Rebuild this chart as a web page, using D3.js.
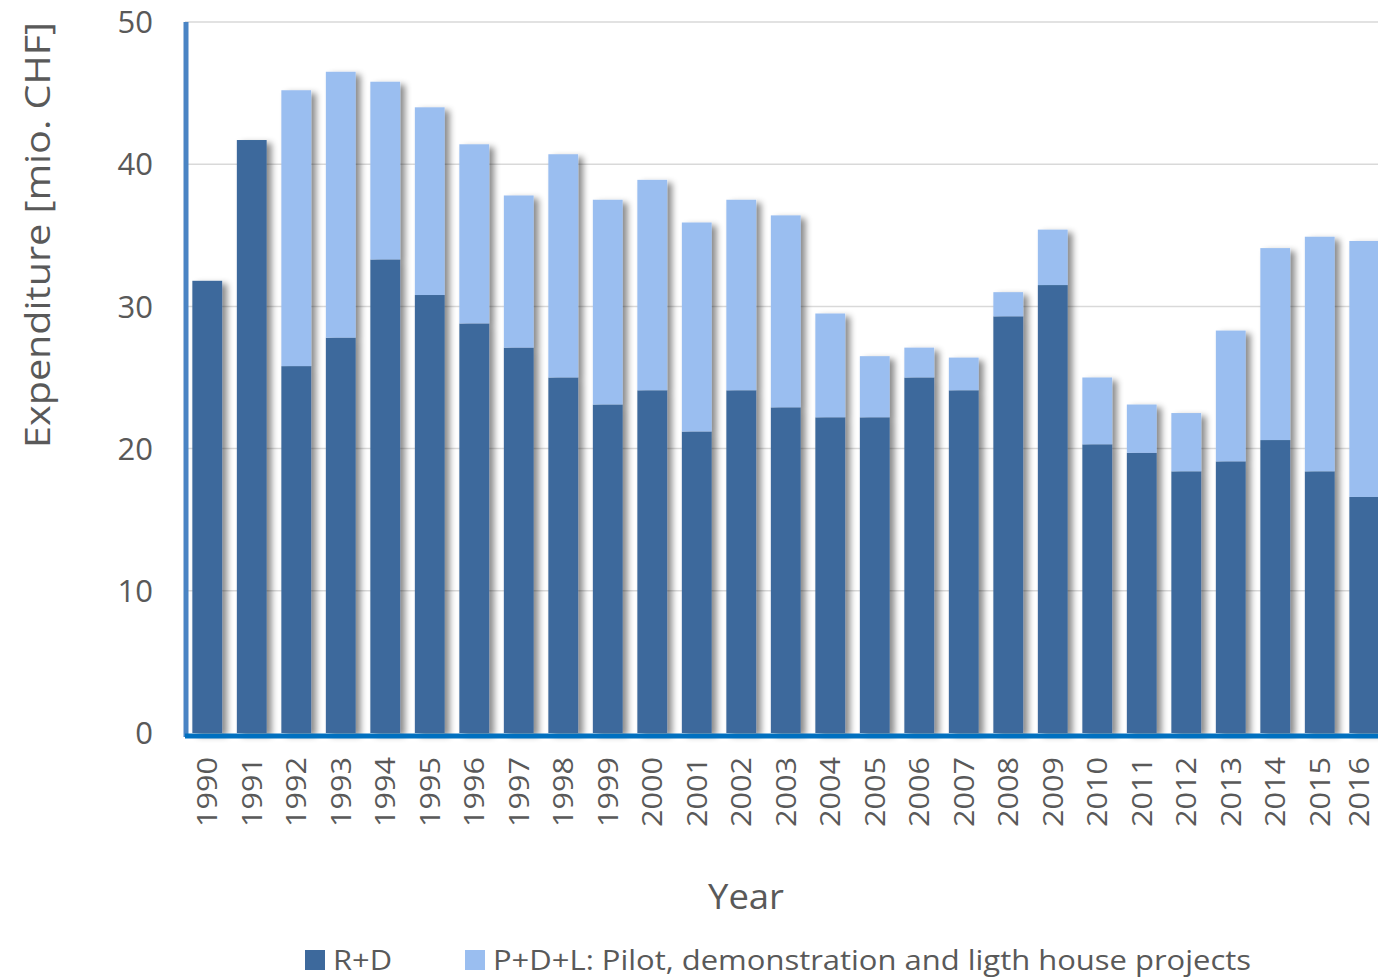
<!DOCTYPE html>
<html>
<head>
<meta charset="utf-8">
<script src="https://cdn.jsdelivr.net/npm/d3@7"></script>
<style>
  body { margin: 0; background: #fff; }
  text { font-family: "Open Sans", sans-serif; fill: #595959; }
</style>
</head>
<body>
<div id="chart"></div>
<script>
const years = d3.range(1990, 2017).map(String);

// R+D expenditure, mio. CHF
const rdValues = [31.8, 41.7, 25.8, 27.8, 33.3, 30.8, 28.8, 27.1, 25.0, 23.1, 24.1, 21.2, 24.1, 22.9,
                  22.2, 22.2, 25.0, 24.1, 29.3, 31.5, 20.3, 19.7, 18.4, 19.1, 20.6, 18.4, 16.6];

// P+D+L expenditure, mio. CHF
const pdlValues = [0, 0, 19.4, 18.7, 12.5, 13.2, 12.6, 10.7, 15.7, 14.4, 14.8, 14.7, 13.4, 13.5,
                   7.3, 4.3, 2.1, 2.3, 1.7, 3.9, 4.7, 3.4, 4.1, 9.2, 13.5, 16.5, 18.0];

const seriesNames = ["R+D", "P+D+L: Pilot, demonstration and ligth house projects"];
const seriesColors = ["#3d699c", "#9abef0"];
const yTicks = [0, 10, 20, 30, 40, 50];

const width = 1378, height = 979;
const margin = { top: 22, left: 185, bottom: 733 };

const svg = d3.select("#chart").append("svg")
    .attr("width", width)
    .attr("height", height);

const defs = svg.append("defs");
defs.append("filter")
    .attr("id", "shadow")
    .attr("x", "-20%").attr("y", "-5%")
    .attr("width", "160%").attr("height", "110%")
  .append("feDropShadow")
    .attr("dx", 5).attr("dy", 3)
    .attr("stdDeviation", 3)
    .attr("flood-color", "#000")
    .attr("flood-opacity", 0.45);

const x = d3.scaleBand()
    .domain(years)
    .range([margin.left, margin.left + years.length * 44.5])
    .paddingInner(0.33)
    .paddingOuter(0.165);

const y = d3.scaleLinear()
    .domain([0, 50])
    .range([margin.bottom, margin.top]);

// gridlines
svg.append("g")
    .selectAll("line")
    .data(yTicks.filter(d => d > 0))
    .enter().append("line")
      .attr("x1", margin.left)
      .attr("x2", width)
      .attr("y1", d => y(d))
      .attr("y2", d => y(d))
      .attr("stroke", "#d9d9d9")
      .attr("stroke-width", 1.5);

// stacked bars
const table = years.map((yr, i) => ({ year: yr, rd: rdValues[i], pdl: pdlValues[i] }));
const stack = d3.stack().keys(["rd", "pdl"])(table);

const barGroups = svg.append("g")
    .selectAll("g")
    .data(table)
    .enter().append("g")
      .attr("filter", "url(#shadow)");

barGroups.each(function(d, i) {
    const g = d3.select(this);
    stack.forEach((layer, k) => {
        const seg = layer[i];
        if (seg[1] - seg[0] <= 0) return;
        g.append("rect")
            .attr("x", x(d.year))
            .attr("width", x.bandwidth())
            .attr("y", y(seg[1]))
            .attr("height", y(seg[0]) - y(seg[1]))
            .attr("fill", seriesColors[k]);
    });
});

// axis lines
svg.append("line")
    .attr("x1", margin.left + 1).attr("x2", margin.left + 1)
    .attr("y1", margin.top).attr("y2", margin.bottom + 4)
    .attr("stroke", "#4a84c4")
    .attr("stroke-width", 5);

svg.append("line")
    .attr("x1", margin.left).attr("x2", width)
    .attr("y1", margin.bottom + 3).attr("y2", margin.bottom + 3)
    .attr("stroke", "#0070c0")
    .attr("stroke-width", 5);

// y tick labels
svg.append("g")
    .selectAll("text")
    .data(yTicks)
    .enter().append("text")
      .attr("x", 153)
      .attr("y", d => y(d))
      .attr("dy", "0.36em")
      .attr("text-anchor", "end")
      .style("font-size", "31px")
      .text(d => d);

// x tick labels (last one nudged so it stays inside the page)
svg.append("g")
    .selectAll("text")
    .data(years)
    .enter().append("text")
      .attr("transform", d => `translate(${Math.min(x(d) + x.bandwidth() / 2, 1359)}, 757)rotate(-90)`)
      .attr("dy", "0.36em")
      .attr("text-anchor", "end")
      .attr("textLength", 70)
      .attr("lengthAdjust", "spacingAndGlyphs")
      .style("font-size", "28px")
      .text(d => d);

// axis titles
svg.append("text")
    .attr("transform", "translate(38, 235)rotate(-90)")
    .attr("dy", "0.35em")
    .attr("text-anchor", "middle")
    .attr("textLength", 426)
    .attr("lengthAdjust", "spacingAndGlyphs")
    .style("font-size", "34px")
    .text("Expenditure [mio. CHF]");

svg.append("text")
    .attr("x", 746)
    .attr("y", 897)
    .attr("dy", "0.35em")
    .attr("text-anchor", "middle")
    .attr("textLength", 76)
    .attr("lengthAdjust", "spacingAndGlyphs")
    .style("font-size", "34px")
    .text("Year");

// legend
const legendItems = [
    { x: 305, textLen: 59 },
    { x: 465, textLen: 758 }
];
const legend = svg.append("g")
    .selectAll("g")
    .data(seriesNames)
    .enter().append("g")
      .attr("transform", (d, i) => `translate(${legendItems[i].x}, 960)`);

legend.append("rect")
    .attr("y", -10)
    .attr("width", 20)
    .attr("height", 20)
    .attr("fill", (d, i) => seriesColors[i]);

legend.append("text")
    .attr("x", 28)
    .attr("dy", "0.35em")
    .attr("textLength", (d, i) => legendItems[i].textLen)
    .attr("lengthAdjust", "spacingAndGlyphs")
    .style("font-size", "28px")
    .text(d => d);
</script>
</body>
</html>
